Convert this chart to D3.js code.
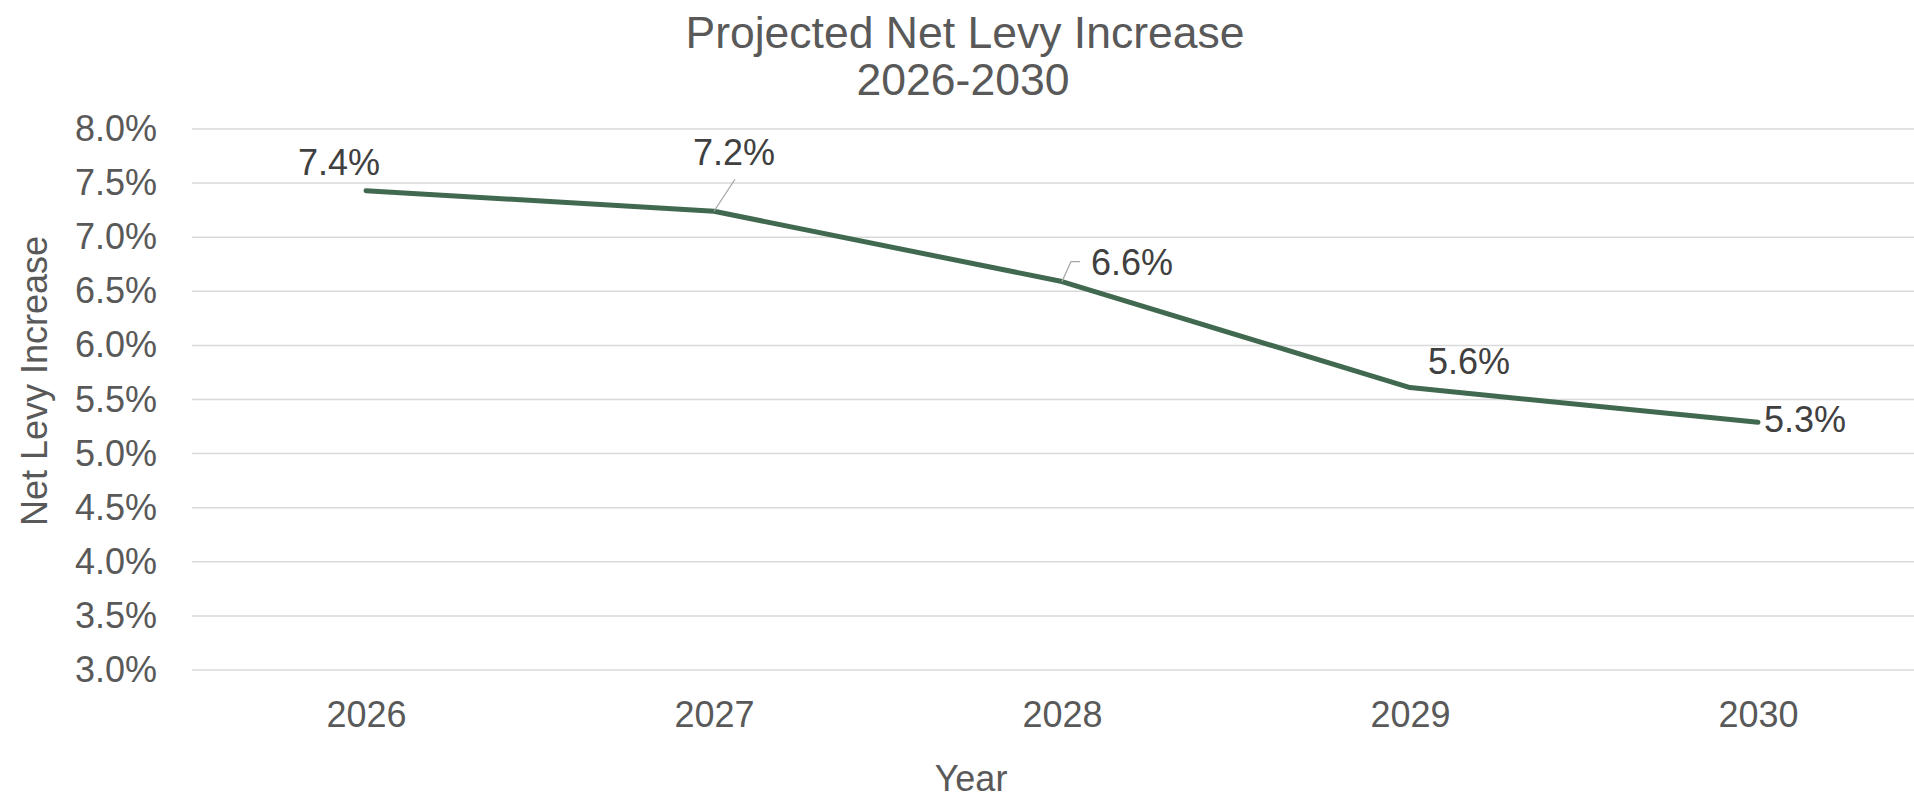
<!DOCTYPE html>
<html>
<head>
<meta charset="utf-8">
<script src="https://cdn.jsdelivr.net/npm/d3@7"></script>
<style>
  html, body { margin: 0; padding: 0; background: #fff; overflow: hidden; }
  svg { display: block; font-family: "Liberation Sans", Arial, sans-serif; }
</style>
</head>
<body>
<svg id="chart" width="1914" height="798"></svg>
<script>
// ---- data ----
const years = ["2026", "2027", "2028", "2029", "2030"];
const netLevyIncrease = [7.43, 7.24, 6.59, 5.61, 5.29];
const dataLabels = ["7.4%", "7.2%", "6.6%", "5.6%", "5.3%"];
const yTicks = [3.0, 3.5, 4.0, 4.5, 5.0, 5.5, 6.0, 6.5, 7.0, 7.5, 8.0];
const titleLines = ["Projected Net Levy Increase", "2026-2030"];

// ---- layout ----
const W = 1914, H = 798;
const plot = { left: 192, right: 1932, top: 129, bottom: 670 };
// label placement relative to each point: [dx of label centre, dy of baseline]
const labelOffsets = [[-27, -16], [20, -46], [70, -7], [59, -14], [47, 10]];

const svg = d3.select("#chart");

const x = d3.scalePoint().domain(years).range([plot.left, plot.right]).padding(0.5);
const y = d3.scaleLinear().domain([3, 8]).range([plot.bottom, plot.top]);

// gridlines
svg.append("g").selectAll("line").data(yTicks).join("line")
  .attr("x1", plot.left).attr("x2", plot.right)
  .attr("y1", d => y(d)).attr("y2", d => y(d))
  .attr("stroke", "#d9d9d9").attr("stroke-width", 1.5);

// y axis
const yAxis = d3.axisLeft(y).tickValues(yTicks).tickSize(0).tickPadding(0)
  .tickFormat(d => d.toFixed(1) + "%");
const gy = svg.append("g").attr("transform", `translate(157,0)`).call(yAxis);
gy.select(".domain").remove();
gy.selectAll("text").attr("fill", "#595959").attr("font-size", 36)
  .attr("font-family", "Liberation Sans, Arial, sans-serif");

// x axis
const xAxis = d3.axisBottom(x).tickSize(0).tickPadding(0);
const gx = svg.append("g").attr("transform", `translate(0,${plot.bottom})`).call(xAxis);
gx.select(".domain").remove();
gx.selectAll("text").attr("fill", "#595959").attr("font-size", 36)
  .attr("font-family", "Liberation Sans, Arial, sans-serif")
  .attr("dy", null).attr("y", 57);

// line
const pts = years.map((yr, i) => ({ yr, v: netLevyIncrease[i], label: dataLabels[i], off: labelOffsets[i] }));
svg.append("path").datum(pts)
  .attr("fill", "none").attr("stroke", "#41694f").attr("stroke-width", 5)
  .attr("stroke-linejoin", "round").attr("stroke-linecap", "round")
  .attr("d", d3.line().x(d => x(d.yr)).y(d => y(d.v)));

// leader lines
const p1 = pts[1];
svg.append("path")
  .attr("d", `M${x(p1.yr)},${y(p1.v)} L${x(p1.yr) + 21},${y(p1.v) - 32}`)
  .attr("stroke", "#a6a6a6").attr("stroke-width", 1.3).attr("fill", "none");
const p2 = pts[2];
svg.append("path")
  .attr("d", `M${x(p2.yr)},${y(p2.v)} L${x(p2.yr) + 9},${y(p2.v) - 20} L${x(p2.yr) + 18},${y(p2.v) - 20}`)
  .attr("stroke", "#a6a6a6").attr("stroke-width", 1.3).attr("fill", "none");

// data labels
svg.append("g").selectAll("text").data(pts).join("text")
  .attr("x", d => x(d.yr) + d.off[0])
  .attr("y", d => y(d.v) + d.off[1])
  .attr("text-anchor", "middle")
  .attr("font-size", 36).attr("fill", "#404040")
  .text(d => d.label);

// title
svg.append("text").attr("x", 965).attr("y", 48).attr("text-anchor", "middle")
  .attr("font-size", 44.5).attr("fill", "#595959").text(titleLines[0]);
svg.append("text").attr("x", 963).attr("y", 95).attr("text-anchor", "middle")
  .attr("font-size", 44.5).attr("fill", "#595959").text(titleLines[1]);

// axis titles
svg.append("text").attr("transform", "translate(47,381) rotate(-90)")
  .attr("text-anchor", "middle").attr("font-size", 36).attr("fill", "#595959")
  .text("Net Levy Increase");
svg.append("text").attr("x", 971).attr("y", 791).attr("text-anchor", "middle")
  .attr("font-size", 36).attr("fill", "#595959").text("Year");
</script>
</body>
</html>
